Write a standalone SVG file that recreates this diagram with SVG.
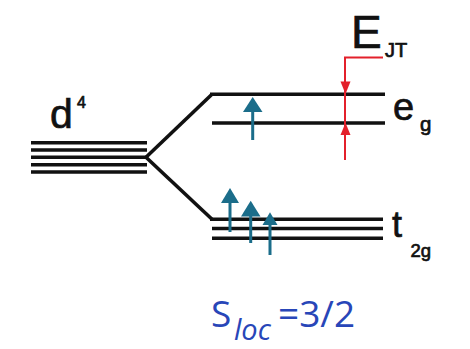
<svg xmlns="http://www.w3.org/2000/svg" width="470" height="349" viewBox="0 0 470 349">
<defs>
<style>
.lvl{stroke:#111;stroke-width:3.6;fill:none}
.spin{stroke:#1b6d8a;stroke-width:3;fill:none}
.head{fill:#1b6d8a}
.red{stroke:#e3202b;stroke-width:2;fill:none}
.redh{fill:#e3202b}
.lab{font-family:"Liberation Sans",Arial,sans-serif;fill:#111;stroke:#111;stroke-width:0.7}
.s{font-family:"Open Sans","Liberation Sans",sans-serif;fill:#2846b8}
</style>
</defs>
<rect width="470" height="349" fill="#fff"/>
<g id="connectors">
<path class="lvl" d="M146 157.3 L212 94.3"/>
<path class="lvl" d="M146 157.3 L212 219.3"/>
</g>
<g id="d4">
<path class="lvl" d="M31 142.7H147M31 150H147M31 157.3H147M31 164.7H147M31 172H147"/>
<text class="lab" x="50" y="128" font-size="41">d</text>
<text class="lab" x="77" y="108" font-size="16">4</text>
</g>
<g id="eg">
<path class="lvl" d="M210 94.3H385M212 123H385"/>
<text class="lab" x="393" y="120" font-size="38">e</text>
<text class="lab" x="420" y="130.5" font-size="20.5">g</text>
</g>
<g id="t2g">
<path class="lvl" d="M210 219.3H383M212 228.5H383M212 238.3H383"/>
<text class="lab" x="392" y="236.7" font-size="36">t</text>
<text class="lab" x="410.5" y="257" font-size="18.5">2g</text>
</g>
<g id="spins">
<path class="spin" d="M252.7 140V110"/>
<path class="head" d="M243 112 L262.5 112 L252.7 97Z"/>
<path class="spin" d="M230 232V200"/>
<path class="head" d="M221 203 L239 203 L230 188Z"/>
<path class="spin" d="M250.7 243V214"/>
<path class="head" d="M241 216.5 L260.5 216.5 L250.7 200.7Z"/>
<path class="spin" d="M270 255V223"/>
<path class="head" d="M262.5 225 L277.5 225 L270 212.3Z"/>
</g>
<g id="EJT">
<path class="red" d="M383 57.5H345V160"/>
<path class="redh" d="M340.5 81.5 L350.5 81.5 L345.5 94Z"/>
<path class="redh" d="M340.5 135 L350.5 135 L345.5 122.7Z"/>
<text class="lab" x="351" y="48" font-size="46">E</text>
<text class="lab" x="385" y="56.5" font-size="20">JT</text>
</g>
<g id="spin-label">
<text class="s" x="211" y="326.7" font-size="37">S</text>
<text class="s" x="234" y="340" font-size="29" font-style="italic">loc</text>
<text class="s" x="278" y="326.7" font-size="37">=3/2</text>
</g>
</svg>
